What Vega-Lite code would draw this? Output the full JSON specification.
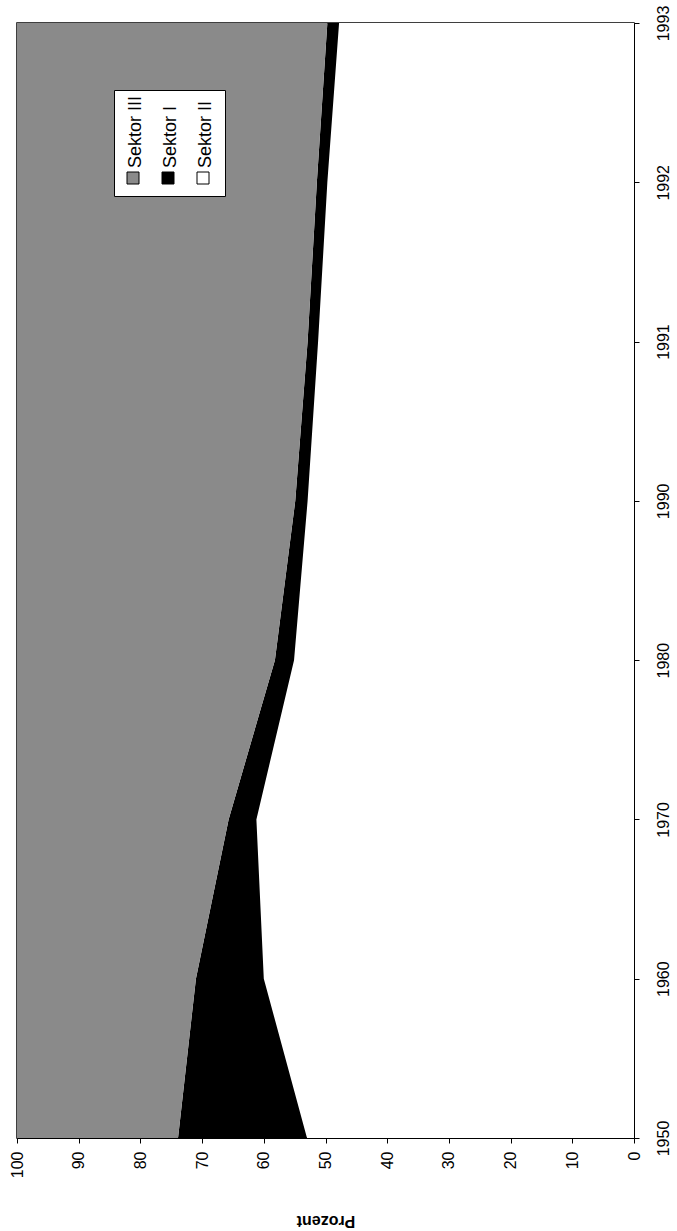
{
  "$schema": "https://vega.github.io/schema/vega-lite/v6.json",
  "autosize": "none",
  "width": 617,
  "height": 1115,
  "padding": {"left": 17, "top": 23, "right": 43, "bottom": 93},
  "background": "white",
  "config": {
    "font": "Liberation Sans",
    "view": {"stroke": "black", "strokeWidth": 1.5},
    "style": {"guide-label": {"angle": -90, "dx": 10}},
    "axis": {
      "grid": false,
      "domainColor": "black",
      "tickColor": "black",
      "labelColor": "black",
      "titleColor": "black"
    }
  },
  "data": {
    "values": [
      {"Jahr": "1950", "Sektor": "Sektor II", "Reihe": 1, "Anteil": 53.0},
      {"Jahr": "1950", "Sektor": "Sektor I", "Reihe": 2, "Anteil": 20.9},
      {"Jahr": "1950", "Sektor": "Sektor III", "Reihe": 3, "Anteil": 26.1},
      {"Jahr": "1960", "Sektor": "Sektor II", "Reihe": 1, "Anteil": 60.0},
      {"Jahr": "1960", "Sektor": "Sektor I", "Reihe": 2, "Anteil": 11.0},
      {"Jahr": "1960", "Sektor": "Sektor III", "Reihe": 3, "Anteil": 29.0},
      {"Jahr": "1970", "Sektor": "Sektor II", "Reihe": 1, "Anteil": 61.2},
      {"Jahr": "1970", "Sektor": "Sektor I", "Reihe": 2, "Anteil": 4.5},
      {"Jahr": "1970", "Sektor": "Sektor III", "Reihe": 3, "Anteil": 34.3},
      {"Jahr": "1980", "Sektor": "Sektor II", "Reihe": 1, "Anteil": 55.1},
      {"Jahr": "1980", "Sektor": "Sektor I", "Reihe": 2, "Anteil": 3.1},
      {"Jahr": "1980", "Sektor": "Sektor III", "Reihe": 3, "Anteil": 41.8},
      {"Jahr": "1990", "Sektor": "Sektor II", "Reihe": 1, "Anteil": 52.9},
      {"Jahr": "1990", "Sektor": "Sektor I", "Reihe": 2, "Anteil": 2.0},
      {"Jahr": "1990", "Sektor": "Sektor III", "Reihe": 3, "Anteil": 45.1},
      {"Jahr": "1991", "Sektor": "Sektor II", "Reihe": 1, "Anteil": 51.2},
      {"Jahr": "1991", "Sektor": "Sektor I", "Reihe": 2, "Anteil": 1.7},
      {"Jahr": "1991", "Sektor": "Sektor III", "Reihe": 3, "Anteil": 47.1},
      {"Jahr": "1992", "Sektor": "Sektor II", "Reihe": 1, "Anteil": 49.7},
      {"Jahr": "1992", "Sektor": "Sektor I", "Reihe": 2, "Anteil": 1.7},
      {"Jahr": "1992", "Sektor": "Sektor III", "Reihe": 3, "Anteil": 48.6},
      {"Jahr": "1993", "Sektor": "Sektor II", "Reihe": 1, "Anteil": 47.8},
      {"Jahr": "1993", "Sektor": "Sektor I", "Reihe": 2, "Anteil": 1.9},
      {"Jahr": "1993", "Sektor": "Sektor III", "Reihe": 3, "Anteil": 50.3}
    ]
  },
  "mark": {"type": "area", "orient": "horizontal", "interpolate": "linear"},
  "encoding": {
    "y": {
      "field": "Jahr",
      "type": "ordinal",
      "sort": "descending",
      "scale": {"type": "point", "padding": 0},
      "axis": {
        "orient": "right",
        "title": null,
        "labelAngle": -90,
        "labelAlign": "center",
        "labelBaseline": "top",
        "labelFontSize": 16,
        "labelPadding": 16,
        "labelOffset": 10,
        "tickSize": 5
      }
    },
    "x": {
      "field": "Anteil",
      "type": "quantitative",
      "stack": "zero",
      "scale": {"domain": [0, 100], "reverse": true, "nice": false},
      "axis": {
        "values": [0, 10, 20, 30, 40, 50, 60, 70, 80, 90, 100],
        "labelAngle": -90,
        "labelAlign": "right",
        "labelBaseline": "middle",
        "labelFontSize": 16,
        "labelPadding": 18,
        "tickSize": 5,
        "title": "Prozent",
        "titleAngle": 180,
        "titleFontSize": 16,
        "titleFontWeight": "bold",
        "titleBaseline": "middle",
        "titleY": 82
      }
    },
    "color": {
      "field": "Sektor",
      "type": "nominal",
      "scale": {
        "domain": ["Sektor III", "Sektor I", "Sektor II"],
        "range": ["#8a8a8a", "#000000", "#ffffff"]
      },
      "legend": {
        "orient": "none",
        "legendX": 97,
        "legendY": 67,
        "direction": "horizontal",
        "title": " ",
        "titleFontSize": 50,
        "titlePadding": 19,
        "fillColor": "white",
        "strokeColor": "black",
        "padding": 10,
        "symbolType": "square",
        "symbolSize": 144,
        "symbolStrokeColor": "black",
        "symbolStrokeWidth": 1,
        "labelFontSize": 18,
        "labelAlign": "left",
        "labelBaseline": "middle",
        "labelOffset": -6.5,
        "columnPadding": 14
      }
    },
    "order": {"field": "Reihe"}
  }
}
